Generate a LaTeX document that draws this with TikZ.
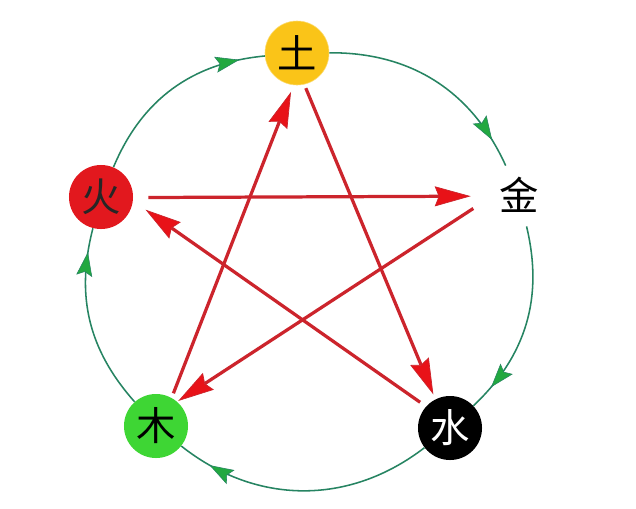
\documentclass[tikz,border=0pt]{standalone}
\usepackage{fontspec}
\newfontfamily\cjk{Noto Sans CJK SC}
\usetikzlibrary{arrows.meta,decorations.markings}
\definecolor{earth}{RGB}{250,196,24}
\definecolor{fire}{RGB}{226,24,30}
\definecolor{wood}{RGB}{62,214,52}
\definecolor{cyclegreen}{RGB}{38,132,98}
\definecolor{tipgreen}{RGB}{34,168,64}
\definecolor{linered}{RGB}{204,36,44}
\definecolor{tipred}{RGB}{232,18,24}
\begin{document}
\begin{tikzpicture}[x=0.025cm,y=-0.025cm,
  element/.style={circle,minimum size=1.6cm,inner sep=0pt,font=\cjk\fontsize{28}{28}\selectfont},
  cycle/.style={draw=cyclegreen,line width=1.1pt,postaction={decorate},
    decoration={markings,mark=at position 0.87 with {\arrow{Stealth[length=0.6cm,width=0.4cm,inset=0.1cm,color=cyclegreen,fill=tipgreen,line width=0.4pt]}}}},
  control/.style={draw=linered,line width=2.3pt,-{Stealth[length=0.9cm,width=0.5cm,inset=0.1cm,fill=tipred,line width=0.5pt]}}]
  \useasboundingbox[fill=white] (0,0) rectangle (636,508);

  \node[element,fill=earth,draw=earth!60] (tu) at (297,53) {土};
  \node[element] (jin) at (519,195) {金};
  \node[element,fill=black,text=white] (shui) at (450,428) {水};
  \node[element,fill=wood] (mu) at (156,426) {木};
  \node[element,fill=fire,text=black!85] (huo) at (101,197) {火};

  % generating cycle
  \path
    (huo)  edge [cycle,bend left=31] (tu)
    (tu)   edge [cycle,bend left=33] (jin)
    (jin)  edge [cycle,bend left=30] (shui)
    (shui) edge [cycle,bend left=38] (mu)
    (mu)   edge [cycle,bend left=28] (huo);

  % overcoming star
  \path
    (mu.61)    edge [control,shorten <=0.12cm,shorten >=0.18cm] (tu.264)
    (tu.283)   edge [control,shorten <=0.1cm,shorten >=0.13cm] (shui.117)
    (shui.138) edge [control,shorten <=0.18cm,shorten >=0.38cm] (huo.-7)
    (huo.-1)   edge [control,shorten <=0.38cm,shorten >=0.4cm] (jin.182)
    (jin.188)  edge [control,shorten <=0.41cm,shorten >=0.03cm] (mu.49);
\end{tikzpicture}
\end{document}
